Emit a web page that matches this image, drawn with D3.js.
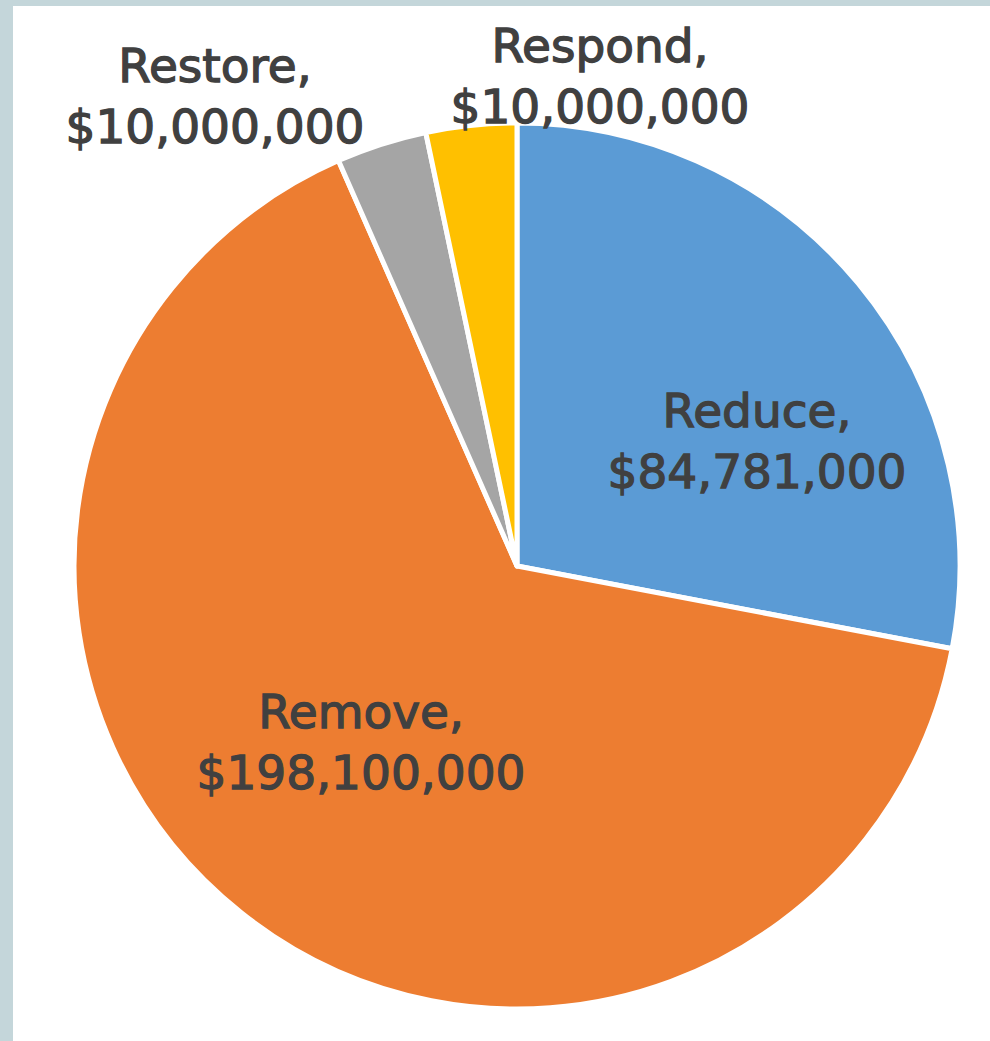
<!DOCTYPE html>
<html>
  <head>
    <meta charset="utf-8">
    <title>Budget by category</title>
    <script src="https://d3js.org/d3.v7.min.js"></script>
    <style>
      body { margin: 0; background: #fff; }
      svg { display: block; }
      .label { font-family: "DejaVu Sans", sans-serif; font-size: 47px; fill: #404040; stroke: #404040; stroke-width: 1.3px; }
    </style>
  </head>
  <body>
    <div id="vis"></div>
    <script>
        const width = 990;
        const height = 1041;

        // data
        const categories = ["Reduce", "Remove", "Restore", "Respond"];
        const amounts = [84781000, 198100000, 10000000, 10000000];
        const colors = ["#5b9bd5", "#ed7d31", "#a5a5a5", "#ffc000"];

        // where each label sits, relative to the pie centre (first line baseline)
        const labelOffsets = {
          Reduce: [240, -139],
          Remove: [-156, 162],
          Restore: [-302, -484],
          Respond: [83, -504]
        };

        const cx = 517, cy = 566, radius = 443;

        const svg = d3.select("#vis").append("svg")
          .attr("width", width).attr("height", height);

        // frame of the screenshot the chart sits in
        svg.append("rect").attr("width", width).attr("height", height).attr("fill", "#c4d6da");
        svg.append("rect").attr("x", 13).attr("y", 6).attr("width", width - 13).attr("height", height - 6).attr("fill", "#fff");

        const rows = categories.map((c, i) => ({ name: c, value: amounts[i], color: colors[i] }));

        const pie = d3.pie().value(d => d.value).sort(null);
        const arc = d3.arc().innerRadius(0).outerRadius(radius);

        const g = svg.append("g").attr("transform", `translate(${cx},${cy})`);

        g.selectAll("path")
          .data(pie(rows))
          .enter()
          .append("path")
          .attr("d", arc)
          .attr("fill", d => d.data.color)
          .attr("stroke", "#fff")
          .attr("stroke-width", 5)
          .attr("stroke-linejoin", "round");

        const fmt = d3.format("$,");

        const label = g.selectAll("text")
          .data(rows)
          .enter()
          .append("text")
          .attr("class", "label")
          .attr("text-anchor", "middle")
          .attr("transform", d => `translate(${labelOffsets[d.name][0]},${labelOffsets[d.name][1]})`);

        label.append("tspan").attr("x", 0).attr("y", 0).text(d => d.name + ",");
        label.append("tspan").attr("x", 0).attr("y", 61).text(d => fmt(d.value));
    </script>
  </body>
</html>
